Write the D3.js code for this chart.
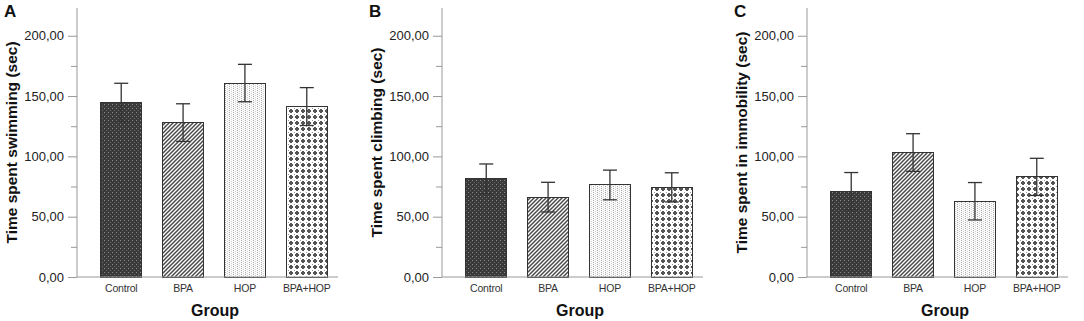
<!DOCTYPE html>
<html>
<head>
<meta charset="utf-8">
<script src="https://cdn.jsdelivr.net/npm/d3@7"></script>
<style>
  body { margin: 0; background: #fff; }
  svg { display: block; font-family: Arial, "Liberation Sans", sans-serif; }
</style>
</head>
<body>
<div id="chart"></div>
<script>
var groups = ["Control", "BPA", "HOP", "BPA+HOP"];
var panelLetters = ["A", "B", "C"];
var yTitles = ["Time spent swimming (sec)", "Time spent climbing (sec)", "Time spent in immobility (sec)"];
// means and error (upper - mean)
var swimMean = [144.8, 128.0, 160.8, 141.3];
var swimErr = [15.8, 15.6, 15.5, 15.7];
var climbMean = [81.3, 66.2, 76.3, 74.3];
var climbErr = [12.4, 12.3, 12.3, 12.1];
var immobMean = [71.1, 103.2, 62.8, 83.0];
var immobErr = [15.5, 15.6, 15.5, 15.4];
var yMajorTicks = [0, 50, 100, 150, 200];
var yMinorTicks = [25, 75, 125, 175];

var panels = [
  {mean: swimMean, err: swimErr},
  {mean: climbMean, err: climbErr},
  {mean: immobMean, err: immobErr}
];

function init(){
    var w = 1084, h = 321;
    var axisX = [77, 442, 807]; // left axis of each panel
    var top = 8, base = 277;

    var svg = d3.select("#chart").append("svg")
                .attr("width", w).attr("height", h);

    // fill patterns for the four groups
    var defs = svg.append("defs");
    var p1 = defs.append("pattern").attr("id", "pat0").attr("patternUnits", "userSpaceOnUse")
                 .attr("width", 4).attr("height", 4);
    p1.append("rect").attr("width", 4).attr("height", 4).attr("fill", "#3a3a3a");
    p1.append("rect").attr("x", 0).attr("y", 0).attr("width", 1).attr("height", 1).attr("fill", "#8c8c8c");
    p1.append("rect").attr("x", 2).attr("y", 2).attr("width", 1).attr("height", 1).attr("fill", "#6a6a6a");

    var p2 = defs.append("pattern").attr("id", "pat1").attr("patternUnits", "userSpaceOnUse")
                 .attr("width", 4).attr("height", 4);
    p2.append("rect").attr("width", 4).attr("height", 4).attr("fill", "#fff");
    p2.append("path").attr("d", "M-1,1 L1,-1 M0,4 L4,0 M3,5 L5,3")
      .attr("stroke", "#4a4a4a").attr("stroke-width", 1.5);

    var p3 = defs.append("pattern").attr("id", "pat2").attr("patternUnits", "userSpaceOnUse")
                 .attr("width", 4).attr("height", 2);
    p3.append("rect").attr("width", 4).attr("height", 2).attr("fill", "#fbfbfb");
    p3.append("rect").attr("x", 1).attr("y", 0).attr("width", 1).attr("height", 1).attr("fill", "#a8a8a8");
    p3.append("rect").attr("x", 3).attr("y", 1).attr("width", 1).attr("height", 1).attr("fill", "#d0d0d0");

    var p4 = defs.append("pattern").attr("id", "pat3").attr("patternUnits", "userSpaceOnUse")
                 .attr("width", 6).attr("height", 6);
    p4.append("rect").attr("width", 6).attr("height", 6).attr("fill", "#fff");
    p4.append("path").attr("d", "M2,1h2v1h1v2h-1v1h-2v-1h-1v-2h1z").attr("fill", "#555");
    p4.append("rect").attr("x", 0).attr("y", 0).attr("width", 1).attr("height", 1).attr("fill", "#999");

    var y = d3.scaleLinear().domain([0, 223]).range([base, top]);
    var fmt = function(d){ return d3.format(".2f")(d).replace(".", ","); };

    panels.forEach(function(p, i){
        var ax = axisX[i];
        var g = svg.append("g");

        var x = d3.scaleBand().domain(groups)
                  .range([ax + 13, ax + 261])
                  .paddingInner(0.33).paddingOuter(0.17);

        // bars
        g.selectAll("rect.bar").data(groups).enter().append("rect")
          .attr("class", "bar")
          .attr("x", function(d){ return x(d); })
          .attr("y", function(d, j){ return y(p.mean[j]); })
          .attr("width", x.bandwidth())
          .attr("height", function(d, j){ return base - y(p.mean[j]); })
          .attr("fill", function(d, j){ return "url(#pat" + j + ")"; })
          .attr("stroke", "#333").attr("stroke-width", 1)
          .attr("shape-rendering", "crispEdges");

        // error bars
        groups.forEach(function(d, j){
            var cx = x(d) + x.bandwidth() / 2;
            var hi = y(p.mean[j] + p.err[j]), lo = y(p.mean[j] - p.err[j]);
            g.append("line").attr("x1", cx).attr("x2", cx).attr("y1", hi).attr("y2", lo)
              .attr("stroke", "#333").attr("stroke-width", 1.3);
            g.append("line").attr("x1", cx - 7).attr("x2", cx + 7).attr("y1", hi).attr("y2", hi)
              .attr("stroke", "#333").attr("stroke-width", 1.3);
            g.append("line").attr("x1", cx - 7).attr("x2", cx + 7).attr("y1", lo).attr("y2", lo)
              .attr("stroke", "#333").attr("stroke-width", 1.3);
        });

        // y axis
        var yAxis = d3.axisLeft(y).tickValues(yMajorTicks).tickFormat(fmt).tickSize(9).tickPadding(4);
        var ya = g.append("g").attr("transform", "translate(" + ax + ",0)").call(yAxis);
        ya.select(".domain").attr("stroke", "#999").attr("d", "M0," + top + "V" + base);
        ya.selectAll(".tick line").attr("stroke", "#999");
        ya.selectAll(".tick text").attr("fill", "#222").style("font-size", "13px");
        var yMinor = d3.axisLeft(y).tickValues(yMinorTicks).tickFormat("").tickSize(6);
        var ym = g.append("g").attr("transform", "translate(" + ax + ",0)").call(yMinor);
        ym.select(".domain").remove();
        ym.selectAll(".tick line").attr("stroke", "#999");

        // x axis
        var xAxis = d3.axisBottom(x).tickSize(0).tickPadding(8);
        var xa = g.append("g").attr("transform", "translate(0," + base + ")").call(xAxis);
        xa.select(".domain").attr("stroke", "#999").attr("d", "M" + ax + ",0H" + (ax + 261));
        xa.selectAll(".tick text").attr("fill", "#333").style("font-size", "10.5px")
          .style("letter-spacing", "-0.2px");

        // titles
        g.append("text")
          .attr("transform", "translate(" + (ax - 60) + "," + ((top + base) / 2) + ") rotate(-90)")
          .attr("text-anchor", "middle")
          .style("font-size", "15.5px").style("font-weight", "bold").attr("fill", "#111")
          .text(yTitles[i]);
        g.append("text")
          .attr("x", ax + 138).attr("y", 316)
          .attr("text-anchor", "middle")
          .style("font-size", "16px").style("font-weight", "bold").attr("fill", "#111")
          .text("Group");
        g.append("text")
          .attr("x", ax - 73).attr("y", 17)
          .style("font-size", "17px").style("font-weight", "bold").attr("fill", "#111")
          .text(panelLetters[i]);
    });
}
window.onload = init;
</script>
</body>
</html>
